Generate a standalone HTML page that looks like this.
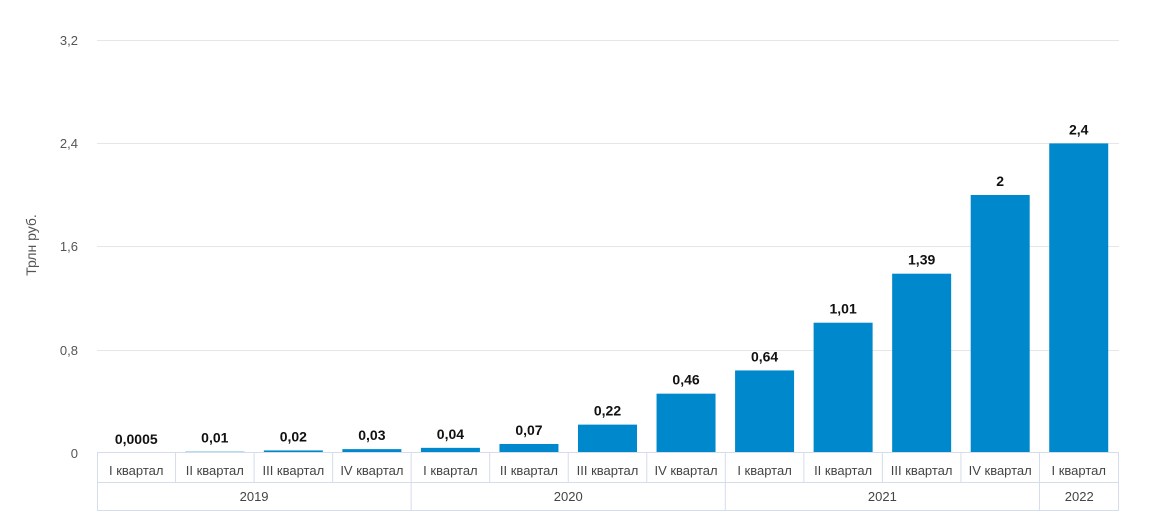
<!DOCTYPE html>
<html><head><meta charset="utf-8"><style>
body{margin:0;background:#fff;}
svg text{font-family:"Liberation Sans",sans-serif;}
</style></head><body>
<svg width="1154" height="525" viewBox="0 0 1154 525" xmlns="http://www.w3.org/2000/svg">
<g stroke="#e6e6e6" stroke-width="1">
<line x1="97" x2="1119" y1="40.5" y2="40.5"/>
<line x1="97" x2="1119" y1="143.5" y2="143.5"/>
<line x1="97" x2="1119" y1="246.5" y2="246.5"/>
<line x1="97" x2="1119" y1="350.5" y2="350.5"/>
</g>
<g font-size="13" fill="#555" text-anchor="end">
<text x="78" y="45">3,2</text>
<text x="78" y="148">2,4</text>
<text x="78" y="251">1,6</text>
<text x="78" y="355">0,8</text>
<text x="78" y="458">0</text>
</g>
<text transform="translate(36,245) rotate(-90)" font-size="14" fill="#555" text-anchor="middle">Трлн руб.</text>
<g id="bars" fill="#0088cc"></g>
<g id="labels" font-size="14" font-weight="bold" fill="#111" text-anchor="middle"></g>
<g stroke="#d5dcec" stroke-width="1" fill="none" id="grid">
<rect x="97.5" y="452.5" width="1021" height="58"/>
<line x1="97" x2="1119" y1="482.5" y2="482.5"/>
</g>
<g font-size="13" fill="#444" text-anchor="middle" id="cats"></g>
<script>
(function(){
var v=[0.0005,0.01,0.02,0.03,0.04,0.07,0.22,0.46,0.64,1.01,1.39,2,2.4];
var l=["0,0005","0,01","0,02","0,03","0,04","0,07","0,22","0,46","0,64","1,01","1,39","2","2,4"];
var q=["I квартал","II квартал","III квартал","IV квартал"];
var ns="http://www.w3.org/2000/svg",w=1021/13;
function el(t,a,p,txt){var e=document.createElementNS(ns,t);for(var k in a)e.setAttribute(k,a[k]);if(txt)e.textContent=txt;document.getElementById(p).appendChild(e);}
for(var i=0;i<13;i++){var cx=97+w*i+w/2,h=v[i]*129,yt=453-h;
el("rect",{x:cx-29.5,y:yt,width:59,height:h},"bars");
el("text",{x:cx,y:yt-9},"labels",l[i]);
el("text",{x:cx,y:475},"cats",q[i%4]);
if(i>0)el("line",{x1:97+w*i,x2:97+w*i,y1:452,y2:482},"grid");}
[[0,"2019"],[4,"2020"],[8,"2021"],[12,"2022"]].forEach(function(p,j,a){var s=97+w*p[0],e=j<3?97+w*a[j+1][0]:1119;
el("text",{x:(s+e)/2,y:501},"cats",p[1]);if(j>0)el("line",{x1:s,x2:s,y1:482,y2:511},"grid");});
})();
</script>
</svg>
</body></html>
